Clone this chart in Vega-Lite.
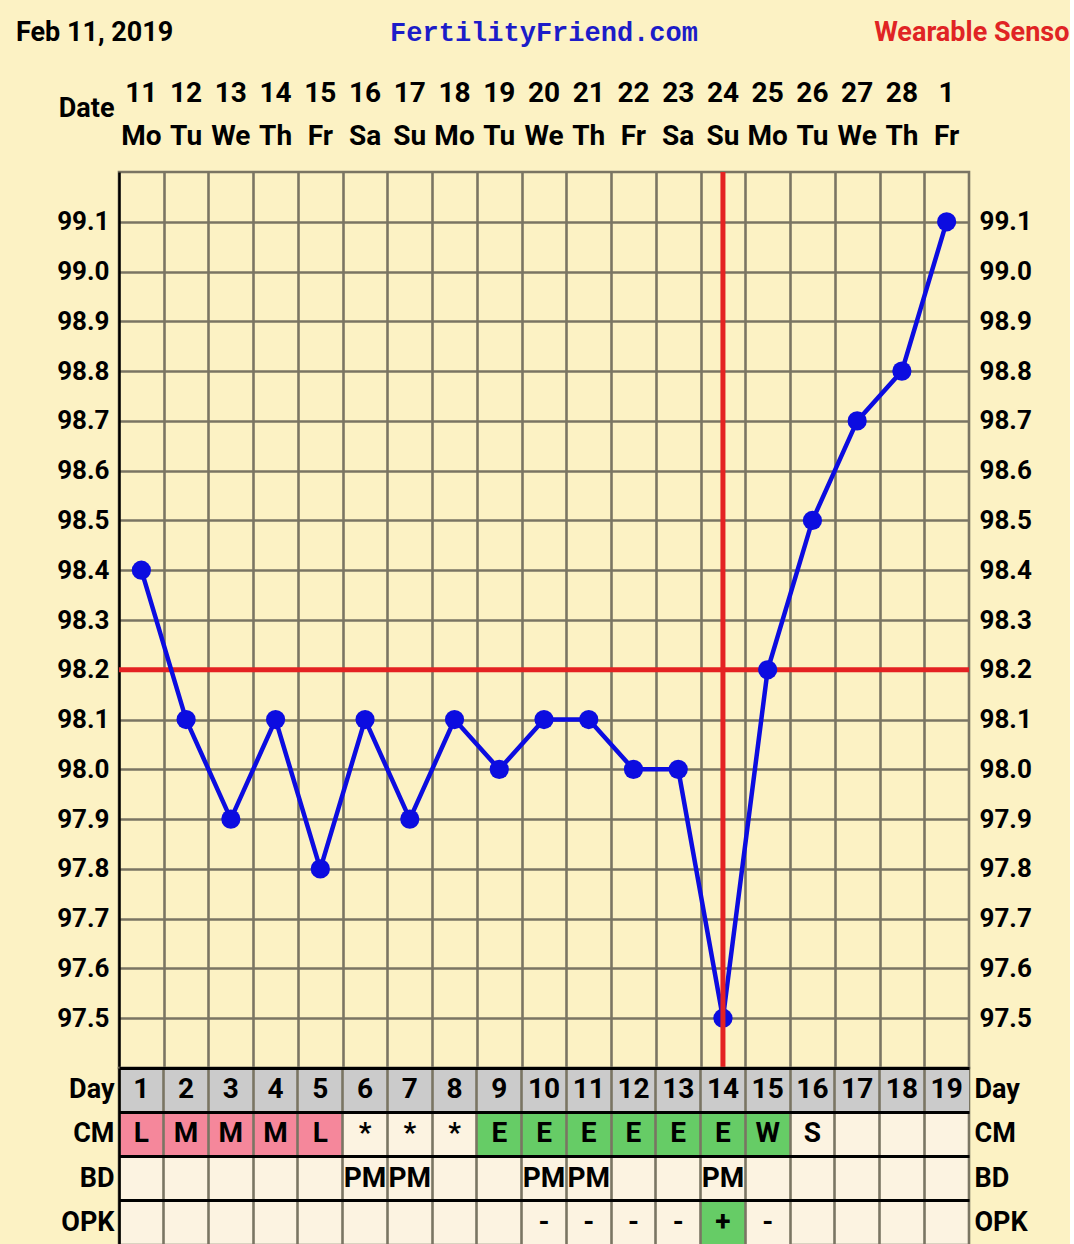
{
  "$schema": "https://vega.github.io/schema/vega-lite/v6.json",
  "background": "#FCF2C4",
  "padding": {"left": 15, "top": 18, "right": 0, "bottom": 0},
  "autosize": {"type": "pad"},
  "spacing": 0,
  "bounds": "flush",
  "config": {
    "font": "Roboto",
    "axis": {
      "labelFont": "Roboto", "labelFontWeight": "bold", "labelFontSize": 26, "labelColor": "#000",
      "ticks": false, "domain": false,
      "gridColor": "#7a7563", "gridWidth": 2.6, "gridOpacity": 1,
      "titleFont": "Roboto", "titleFontWeight": "bold", "titleFontSize": 27, "titleColor": "#000"
    },
    "text": {"font": "Roboto", "fontWeight": "bold", "fontSize": 27, "fill": "#000"}
  },
  "datasets": {
    "header": [
      {"day": 1, "date": "11", "wd": "Mo"}, {"day": 2, "date": "12", "wd": "Tu"}, {"day": 3, "date": "13", "wd": "We"},
      {"day": 4, "date": "14", "wd": "Th"}, {"day": 5, "date": "15", "wd": "Fr"}, {"day": 6, "date": "16", "wd": "Sa"},
      {"day": 7, "date": "17", "wd": "Su"}, {"day": 8, "date": "18", "wd": "Mo"}, {"day": 9, "date": "19", "wd": "Tu"},
      {"day": 10, "date": "20", "wd": "We"}, {"day": 11, "date": "21", "wd": "Th"}, {"day": 12, "date": "22", "wd": "Fr"},
      {"day": 13, "date": "23", "wd": "Sa"}, {"day": 14, "date": "24", "wd": "Su"}, {"day": 15, "date": "25", "wd": "Mo"},
      {"day": 16, "date": "26", "wd": "Tu"}, {"day": 17, "date": "27", "wd": "We"}, {"day": 18, "date": "28", "wd": "Th"},
      {"day": 19, "date": "1", "wd": "Fr"}
    ],
    "temps": [
      {"day": 1, "temp": 98.4}, {"day": 2, "temp": 98.1}, {"day": 3, "temp": 97.9}, {"day": 4, "temp": 98.1},
      {"day": 5, "temp": 97.8}, {"day": 6, "temp": 98.1}, {"day": 7, "temp": 97.9}, {"day": 8, "temp": 98.1},
      {"day": 9, "temp": 98.0}, {"day": 10, "temp": 98.1}, {"day": 11, "temp": 98.1}, {"day": 12, "temp": 98.0},
      {"day": 13, "temp": 98.0}, {"day": 14, "temp": 97.5}, {"day": 15, "temp": 98.2}, {"day": 16, "temp": 98.5},
      {"day": 17, "temp": 98.7}, {"day": 18, "temp": 98.8}, {"day": 19, "temp": 99.1}
    ],
    "table": [
      {"row": "Day", "day": 1, "value": "1", "cat": "day"}, {"row": "Day", "day": 2, "value": "2", "cat": "day"},
      {"row": "Day", "day": 3, "value": "3", "cat": "day"}, {"row": "Day", "day": 4, "value": "4", "cat": "day"},
      {"row": "Day", "day": 5, "value": "5", "cat": "day"}, {"row": "Day", "day": 6, "value": "6", "cat": "day"},
      {"row": "Day", "day": 7, "value": "7", "cat": "day"}, {"row": "Day", "day": 8, "value": "8", "cat": "day"},
      {"row": "Day", "day": 9, "value": "9", "cat": "day"}, {"row": "Day", "day": 10, "value": "10", "cat": "day"},
      {"row": "Day", "day": 11, "value": "11", "cat": "day"}, {"row": "Day", "day": 12, "value": "12", "cat": "day"},
      {"row": "Day", "day": 13, "value": "13", "cat": "day"}, {"row": "Day", "day": 14, "value": "14", "cat": "day"},
      {"row": "Day", "day": 15, "value": "15", "cat": "day"}, {"row": "Day", "day": 16, "value": "16", "cat": "day"},
      {"row": "Day", "day": 17, "value": "17", "cat": "day"}, {"row": "Day", "day": 18, "value": "18", "cat": "day"},
      {"row": "Day", "day": 19, "value": "19", "cat": "day"},
      {"row": "CM", "day": 1, "value": "L", "cat": "period"}, {"row": "CM", "day": 2, "value": "M", "cat": "period"},
      {"row": "CM", "day": 3, "value": "M", "cat": "period"}, {"row": "CM", "day": 4, "value": "M", "cat": "period"},
      {"row": "CM", "day": 5, "value": "L", "cat": "period"}, {"row": "CM", "day": 6, "value": "*", "cat": "none"},
      {"row": "CM", "day": 7, "value": "*", "cat": "none"}, {"row": "CM", "day": 8, "value": "*", "cat": "none"},
      {"row": "CM", "day": 9, "value": "E", "cat": "fertile"}, {"row": "CM", "day": 10, "value": "E", "cat": "fertile"},
      {"row": "CM", "day": 11, "value": "E", "cat": "fertile"}, {"row": "CM", "day": 12, "value": "E", "cat": "fertile"},
      {"row": "CM", "day": 13, "value": "E", "cat": "fertile"}, {"row": "CM", "day": 14, "value": "E", "cat": "fertile"},
      {"row": "CM", "day": 15, "value": "W", "cat": "fertile"}, {"row": "CM", "day": 16, "value": "S", "cat": "none"},
      {"row": "BD", "day": 6, "value": "PM", "cat": "none"}, {"row": "BD", "day": 7, "value": "PM", "cat": "none"},
      {"row": "BD", "day": 10, "value": "PM", "cat": "none"}, {"row": "BD", "day": 11, "value": "PM", "cat": "none"},
      {"row": "BD", "day": 14, "value": "PM", "cat": "none"},
      {"row": "OPK", "day": 10, "value": "-", "cat": "none"}, {"row": "OPK", "day": 11, "value": "-", "cat": "none"},
      {"row": "OPK", "day": 12, "value": "-", "cat": "none"}, {"row": "OPK", "day": 13, "value": "-", "cat": "none"},
      {"row": "OPK", "day": 14, "value": "+", "cat": "positive"}, {"row": "OPK", "day": 15, "value": "-", "cat": "none"}
    ]
  },
  "vconcat": [
    {
      "width": 850,
      "height": 113,
      "view": {"stroke": null},
      "layer": [
        {
          "data": {"name": "header"},
          "mark": {"type": "text", "fontSize": 28},
          "encoding": {
            "x": {"field": "day", "type": "ordinal", "scale": {"type": "band", "domain": [1,2,3,4,5,6,7,8,9,10,11,12,13,14,15,16,17,18,19], "paddingInner": 0, "paddingOuter": 0}, "axis": null},
            "y": {"datum": "date", "type": "nominal", "scale": {"type": "band", "domain": ["date", "wd"], "paddingInner": 0, "paddingOuter": 0.3},
              "axis": {"title": "Date", "labels": false, "ticks": false, "domain": false, "grid": false, "titleAngle": 0, "titleAlign": "right", "titleBaseline": "middle", "titleX": -5, "titleY": 49}},
            "text": {"field": "date"}
          }
        },
        {
          "data": {"name": "header"},
          "mark": {"type": "text", "fontSize": 28},
          "encoding": {
            "x": {"field": "day", "type": "ordinal", "axis": null},
            "y": {"datum": "wd", "type": "nominal",
              "axis": {"title": "Date", "labels": false, "ticks": false, "domain": false, "grid": false, "titleAngle": 0, "titleAlign": "right", "titleBaseline": "middle", "titleX": -5, "titleY": 49}},
            "text": {"field": "wd"}
          }
        },
        {
          "data": {"values": [{"label": "Feb 11, 2019"}]},
          "mark": {"type": "text", "align": "left", "dx": -125.4, "dy": -61},
          "encoding": {
            "x": {"datum": 1, "type": "ordinal", "axis": null},
            "y": {"datum": "date", "type": "nominal",
              "axis": {"title": "Date", "labels": false, "ticks": false, "domain": false, "grid": false, "titleAngle": 0, "titleAlign": "right", "titleBaseline": "middle", "titleX": -5, "titleY": 49}},
            "text": {"field": "label"}
          }
        },
        {
          "data": {"values": [{"label": "FertilityFriend.com"}]},
          "mark": {"type": "text", "align": "center", "dy": -61, "font": "Liberation Mono", "fontSize": 27, "fill": "#1c1cc8"},
          "encoding": {
            "x": {"datum": 10, "type": "ordinal", "axis": null},
            "y": {"datum": "date", "type": "nominal",
              "axis": {"title": "Date", "labels": false, "ticks": false, "domain": false, "grid": false, "titleAngle": 0, "titleAlign": "right", "titleBaseline": "middle", "titleX": -5, "titleY": 49}},
            "text": {"field": "label"}
          }
        },
        {
          "data": {"values": [{"label": "Wearable Sensor"}]},
          "mark": {"type": "text", "align": "left", "dx": 17, "dy": -61, "fill": "#e02424", "limit": 201, "ellipsis": "\u200b"},
          "encoding": {
            "x": {"datum": 17, "type": "ordinal", "axis": null},
            "y": {"datum": "date", "type": "nominal",
              "axis": {"title": "Date", "labels": false, "ticks": false, "domain": false, "grid": false, "titleAngle": 0, "titleAlign": "right", "titleBaseline": "middle", "titleX": -5, "titleY": 49}},
            "text": {"field": "label"}
          }
        }
      ]
    },
    {
      "width": 850,
      "height": 896,
      "view": {"fill": "#FCF2C4", "stroke": "#7a7563", "strokeWidth": 2.6},
      "layer": [
        {
          "data": {"values": [{"coverline": 98.2}]},
          "mark": {"type": "rule", "color": "#e42222", "strokeWidth": 5},
          "encoding": {
            "y": {"field": "coverline", "type": "quantitative", "scale": {"domain": [97.4, 99.2], "nice": false, "zero": false},
              "axis": {"orient": "left", "values": [97.5,97.6,97.7,97.8,97.9,98.0,98.1,98.2,98.3,98.4,98.5,98.6,98.7,98.8,98.9,99.0,99.1], "format": ".1f", "grid": true, "domain": true, "domainColor": "#000", "domainWidth": 2.5, "labelPadding": 10, "title": null}}
          }
        },
        {
          "data": {"name": "temps"},
          "mark": {"type": "line", "color": "#0c0ce0", "strokeWidth": 4.5},
          "encoding": {
            "x": {"field": "day", "type": "quantitative", "scale": {"domain": [0.5, 19.5], "nice": false, "zero": false},
              "axis": {"values": [1.5,2.5,3.5,4.5,5.5,6.5,7.5,8.5,9.5,10.5,11.5,12.5,13.5,14.5,15.5,16.5,17.5,18.5], "grid": true, "labels": false, "ticks": false, "domain": false, "title": null}},
            "y": {"field": "temp", "type": "quantitative",
              "axis": {"orient": "right", "values": [97.5,97.6,97.7,97.8,97.9,98.0,98.1,98.2,98.3,98.4,98.5,98.6,98.7,98.8,98.9,99.0,99.1], "format": ".1f", "grid": false, "labelPadding": 10, "title": null}}
          }
        },
        {
          "data": {"name": "temps"},
          "mark": {"type": "point", "filled": true, "color": "#0c0ce0", "size": 370, "opacity": 1},
          "encoding": {
            "x": {"field": "day", "type": "quantitative",
              "axis": {"values": [1.5,2.5,3.5,4.5,5.5,6.5,7.5,8.5,9.5,10.5,11.5,12.5,13.5,14.5,15.5,16.5,17.5,18.5], "grid": true, "labels": false, "ticks": false, "domain": false, "title": null}},
            "y": {"field": "temp", "type": "quantitative", "axis": null}
          }
        },
        {
          "data": {"values": [{"ovulation": 14}]},
          "mark": {"type": "rule", "color": "#e42222", "strokeWidth": 5},
          "encoding": {
            "x": {"field": "ovulation", "type": "quantitative",
              "axis": {"values": [1.5,2.5,3.5,4.5,5.5,6.5,7.5,8.5,9.5,10.5,11.5,12.5,13.5,14.5,15.5,16.5,17.5,18.5], "grid": true, "labels": false, "ticks": false, "domain": false, "title": null}}
          }
        }
      ],
      "resolve": {"axis": {"y": "independent"}}
    },
    {
      "width": 850,
      "height": 177,
      "view": {"fill": "#FCF3E1", "stroke": "#7a7563", "strokeWidth": 2.6},
      "data": {"name": "table"},
      "encoding": {
        "x": {"field": "day", "type": "ordinal", "scale": {"type": "band", "domain": [1,2,3,4,5,6,7,8,9,10,11,12,13,14,15,16,17,18,19], "paddingInner": 0, "paddingOuter": 0},
          "axis": {"grid": true, "bandPosition": 0, "labels": false, "ticks": false, "domain": false, "title": null, "zindex": 1, "gridColor": "#7a7563"}}
      },
      "layer": [
        {
          "mark": {"type": "rect"},
          "encoding": {
            "y": {"field": "row", "type": "nominal", "scale": {"type": "band", "domain": ["Day", "CM", "BD", "OPK"], "paddingInner": 0, "paddingOuter": 0},
              "axis": {"orient": "left", "grid": true, "bandPosition": 0, "gridColor": "#000", "gridWidth": 3, "domain": true, "domainColor": "#000", "domainWidth": 2.5, "labelPadding": 5, "zindex": 1, "title": null, "labelFontSize": 27}},
            "color": {"field": "cat", "type": "nominal", "scale": {"domain": ["day", "period", "fertile", "positive", "none"], "range": ["#CBCBCB", "#F5879B", "#66CC66", "#66CC66", "#FCF3E1"]}, "legend": null}
          }
        },
        {
          "mark": {"type": "text", "fontSize": 28},
          "encoding": {
            "y": {"field": "row", "type": "nominal", "axis": {"orient": "right", "grid": false, "labelPadding": 5, "title": null, "labelFontSize": 27}},
            "text": {"field": "value"}
          }
        }
      ],
      "resolve": {"axis": {"y": "independent"}}
    }
  ]
}
